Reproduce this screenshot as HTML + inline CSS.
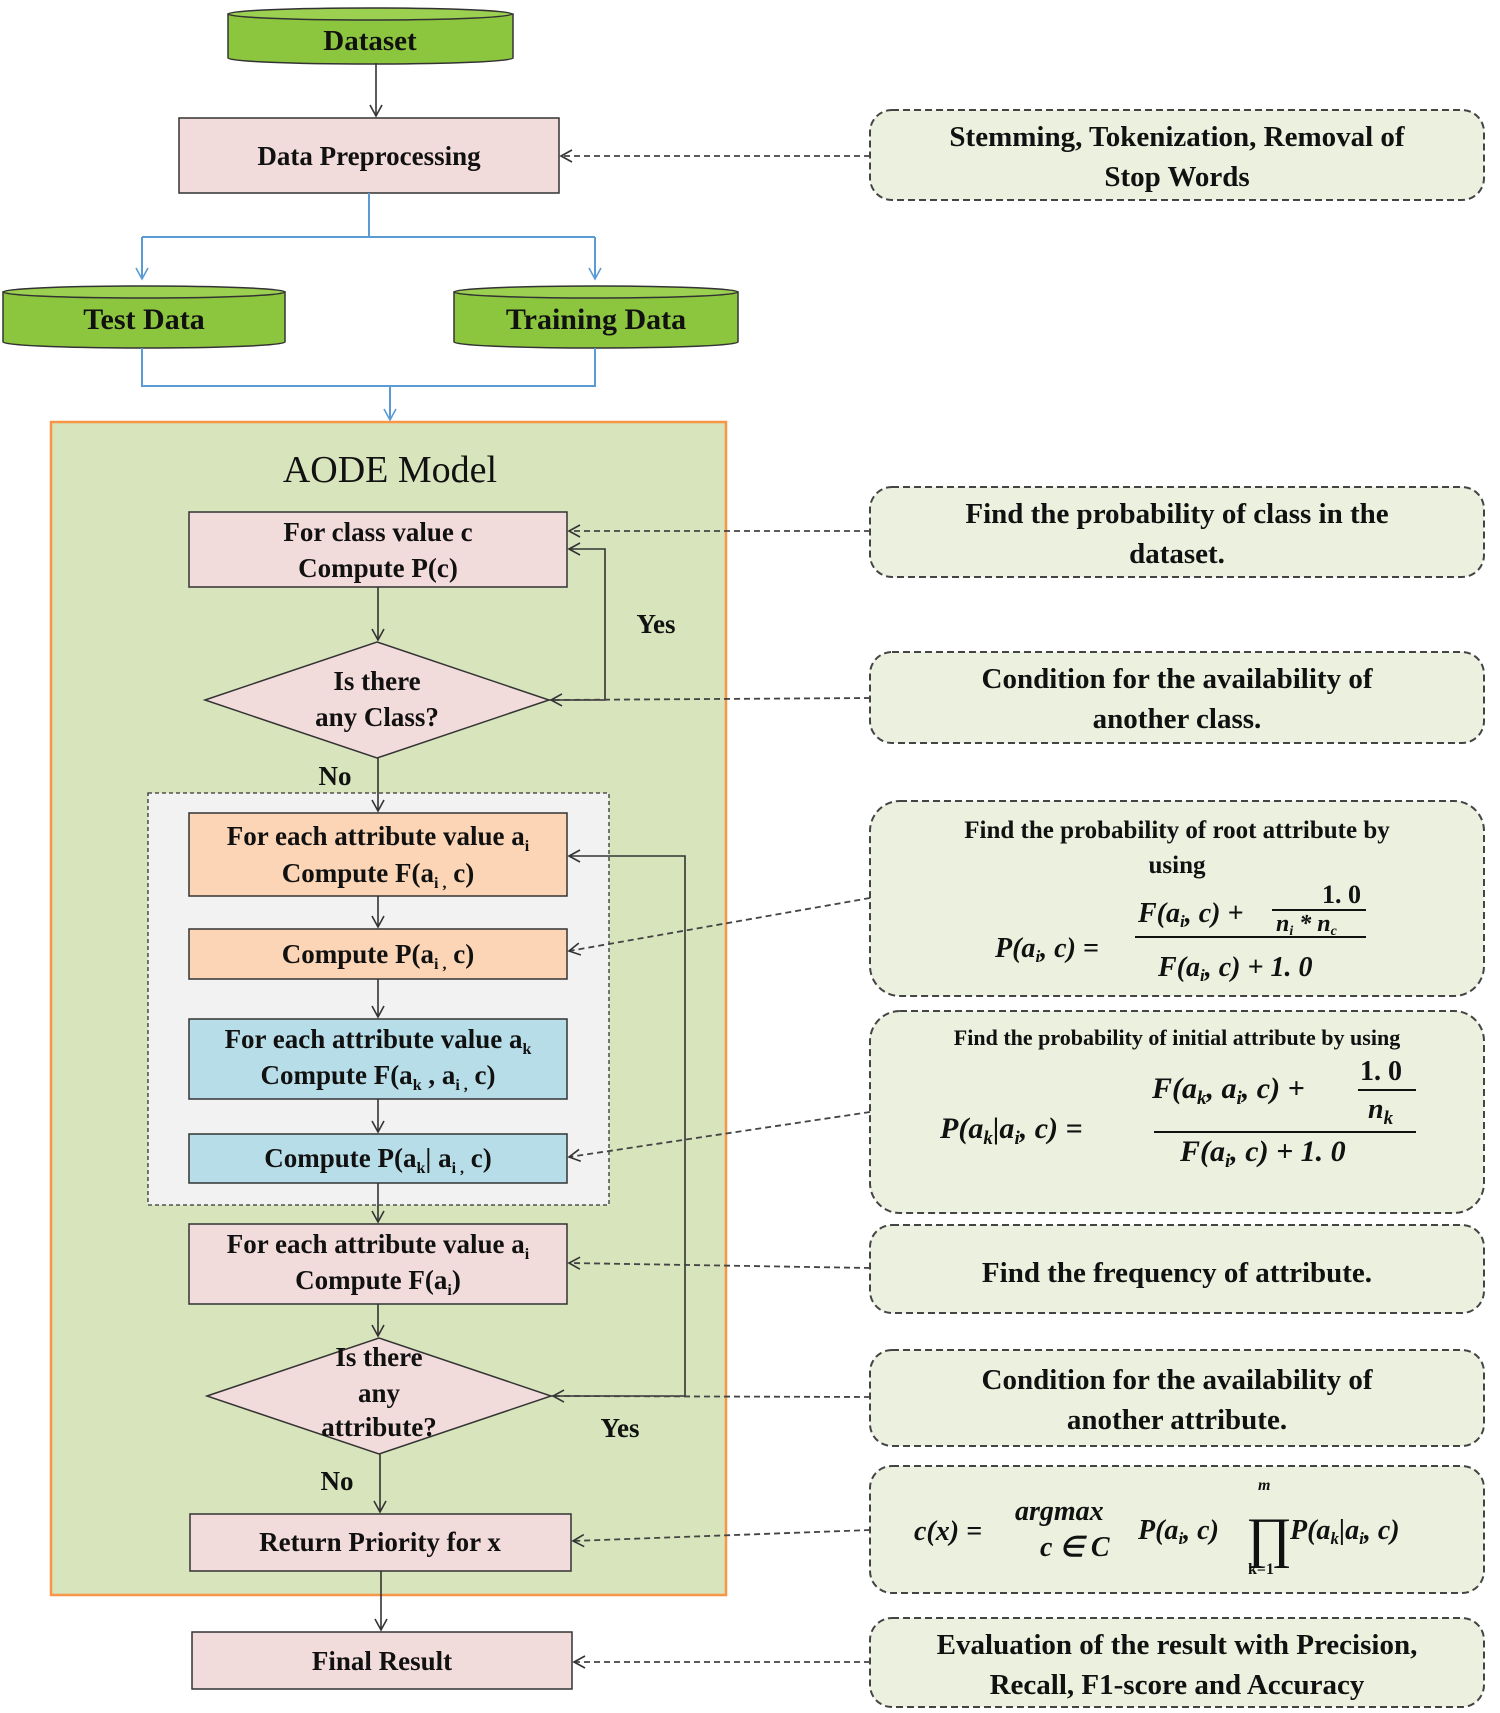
<!DOCTYPE html>
<html><head><meta charset="utf-8"><style>
html,body{margin:0;padding:0;background:#fff}
svg{display:block}
text{font-family:"Liberation Serif",serif;font-weight:bold;fill:#111}
.m{font-style:italic}
</style></head><body>
<svg width="1500" height="1713" viewBox="0 0 1500 1713" xmlns="http://www.w3.org/2000/svg">
<defs>
<marker id="a" markerWidth="14" markerHeight="14" refX="12" refY="7" orient="auto" markerUnits="userSpaceOnUse"><path d="M1,1 L12,7 L1,13" fill="none" stroke="#333" stroke-width="1.6"/></marker>
<marker id="b" markerWidth="14" markerHeight="14" refX="12" refY="7" orient="auto" markerUnits="userSpaceOnUse"><path d="M1,1 L12,7 L1,13" fill="none" stroke="#5b9bd5" stroke-width="1.6"/></marker>
</defs>

<g stroke="#333" stroke-width="1.5">
<path d="M228,14 L228,58 A142,6 0 0 0 513,58 L513,14 Z" fill="#8cc63f"/>
<ellipse cx="370" cy="14" rx="142" ry="6" fill="#9bd050"/>
<path d="M3,292 L3,342 A141,6 0 0 0 285,342 L285,292 Z" fill="#8cc63f"/>
<ellipse cx="144" cy="292" rx="141" ry="6" fill="#9bd050"/>
<path d="M454,292 L454,342 A142,6 0 0 0 738,342 L738,292 Z" fill="#8cc63f"/>
<ellipse cx="596" cy="292" rx="142" ry="6" fill="#9bd050"/>
</g>
<text x="370" y="50" font-size="29" text-anchor="middle">Dataset</text>
<text x="144" y="329" font-size="30" text-anchor="middle">Test Data</text>
<text x="596" y="329" font-size="30" text-anchor="middle">Training Data</text>

<rect x="179" y="118" width="380" height="75" fill="#f2dcdb" stroke="#333" stroke-width="1.5"/>
<text x="369" y="165" font-size="27" text-anchor="middle">Data Preprocessing</text>
<line x1="376" y1="63" x2="376" y2="116" stroke="#333" stroke-width="1.6" marker-end="url(#a)"/>

<g stroke="#5b9bd5" stroke-width="2" fill="none">
<path d="M369,193 L369,237 M142,237 L595,237"/>
<line x1="142" y1="237" x2="142" y2="279" marker-end="url(#b)"/>
<line x1="595" y1="237" x2="595" y2="279" marker-end="url(#b)"/>
<path d="M142,348 L142,386 L595,386 L595,348"/>
<line x1="390" y1="386" x2="390" y2="420" marker-end="url(#b)"/>
</g>

<rect x="51" y="422" width="675" height="1173" fill="#d8e4bc" stroke="#f79646" stroke-width="2.5"/>
<text x="390" y="482" font-size="38" text-anchor="middle" style="font-weight:normal">AODE Model</text>

<rect x="148" y="793" width="461" height="412" fill="#f2f2f2" stroke="#333" stroke-width="1.3" stroke-dasharray="4,3"/>

<g stroke="#333" stroke-width="1.5">
<rect x="189" y="512" width="378" height="75" fill="#f2dcdb"/>
<polygon points="205,700 377,642 549,700 377,758" fill="#f2dcdb"/>
<rect x="189" y="813" width="378" height="83" fill="#fbd5b5"/>
<rect x="189" y="929" width="378" height="50" fill="#fbd5b5"/>
<rect x="189" y="1019" width="378" height="80" fill="#b7dee8"/>
<rect x="189" y="1134" width="378" height="49" fill="#b7dee8"/>
<rect x="189" y="1224" width="378" height="80" fill="#f2dcdb"/>
<polygon points="207,1396 379,1338 551,1396 379,1454" fill="#f2dcdb"/>
<rect x="190" y="1514" width="381" height="57" fill="#f2dcdb"/>
<rect x="192" y="1632" width="380" height="57" fill="#f2dcdb"/>
</g>

<g font-size="27" text-anchor="middle">
<text x="378" y="541">For class value c</text>
<text x="378" y="577">Compute P(c)</text>
<text x="377" y="690">Is there</text>
<text x="377" y="726">any Class?</text>
<text x="378" y="845">For each attribute value a<tspan font-size="16" dy="6">i</tspan></text>
<text x="378" y="882">Compute F(a<tspan font-size="16" dy="6">i ,</tspan><tspan dy="-6"> c)</tspan></text>
<text x="378" y="963">Compute P(a<tspan font-size="16" dy="6">i ,</tspan><tspan dy="-6"> c)</tspan></text>
<text x="378" y="1048">For each attribute value  a<tspan font-size="16" dy="6">k</tspan></text>
<text x="378" y="1084">Compute F(a<tspan font-size="16" dy="6">k</tspan><tspan dy="-6"> , a</tspan><tspan font-size="16" dy="6">i ,</tspan><tspan dy="-6"> c)</tspan></text>
<text x="378" y="1167">Compute P(a<tspan font-size="16" dy="6">k</tspan><tspan dy="-6">| a</tspan><tspan font-size="16" dy="6">i ,</tspan><tspan dy="-6"> c)</tspan></text>
<text x="378" y="1253">For each attribute value a<tspan font-size="16" dy="6">i</tspan></text>
<text x="378" y="1289">Compute F(a<tspan font-size="16" dy="6">i</tspan><tspan dy="-6">)</tspan></text>
<text x="379" y="1366">Is there</text>
<text x="379" y="1402">any</text>
<text x="379" y="1436">attribute?</text>
<text x="380" y="1551">Return Priority  for x</text>
<text x="382" y="1670">Final Result</text>
<text x="656" y="633">Yes</text>
<text x="335" y="785">No</text>
<text x="620" y="1437">Yes</text>
<text x="337" y="1490">No</text>
</g>

<g stroke="#333" stroke-width="1.6" fill="none">
<line x1="378" y1="587" x2="378" y2="640" marker-end="url(#a)"/>
<line x1="378" y1="758" x2="378" y2="811" marker-end="url(#a)"/>
<line x1="378" y1="896" x2="378" y2="927" marker-end="url(#a)"/>
<line x1="378" y1="979" x2="378" y2="1017" marker-end="url(#a)"/>
<line x1="378" y1="1099" x2="378" y2="1132" marker-end="url(#a)"/>
<line x1="378" y1="1183" x2="378" y2="1222" marker-end="url(#a)"/>
<line x1="378" y1="1304" x2="378" y2="1336" marker-end="url(#a)"/>
<line x1="380" y1="1454" x2="380" y2="1512" marker-end="url(#a)"/>
<line x1="381" y1="1571" x2="381" y2="1630" marker-end="url(#a)"/>
<path d="M549,700 L605,700 L605,549 L569,549" marker-end="url(#a)"/>
<path d="M551,1396 L685,1396 L685,856 L569,856" marker-end="url(#a)"/>
</g>

<g fill="#ebf1de" stroke="#444" stroke-width="2" stroke-dasharray="7,4">
<rect x="870" y="110" width="614" height="90" rx="22"/>
<rect x="870" y="487" width="614" height="90" rx="22"/>
<rect x="870" y="652" width="614" height="91" rx="22"/>
<rect x="870" y="801" width="614" height="195" rx="30"/>
<rect x="870" y="1011" width="614" height="202" rx="30"/>
<rect x="870" y="1225" width="614" height="88" rx="22"/>
<rect x="870" y="1350" width="614" height="96" rx="22"/>
<rect x="870" y="1466" width="614" height="127" rx="22"/>
<rect x="870" y="1618" width="614" height="89" rx="22"/>
</g>

<g stroke="#444" stroke-width="1.8" fill="none" stroke-dasharray="6,4">
<line x1="870" y1="156" x2="561" y2="156" marker-end="url(#a)"/>
<line x1="870" y1="531" x2="569" y2="531" marker-end="url(#a)"/>
<line x1="870" y1="698" x2="551" y2="700" marker-end="url(#a)"/>
<line x1="870" y1="898" x2="569" y2="951" marker-end="url(#a)"/>
<line x1="870" y1="1112" x2="569" y2="1157" marker-end="url(#a)"/>
<line x1="870" y1="1268" x2="569" y2="1263" marker-end="url(#a)"/>
<line x1="870" y1="1397" x2="553" y2="1396" marker-end="url(#a)"/>
<line x1="870" y1="1530" x2="573" y2="1541" marker-end="url(#a)"/>
<line x1="870" y1="1662" x2="574" y2="1662" marker-end="url(#a)"/>
</g>

<g font-size="29" text-anchor="middle">
<text x="1177" y="146">Stemming, Tokenization, Removal of</text>
<text x="1177" y="186">Stop Words</text>
<text x="1177" y="523">Find the probability of class in the</text>
<text x="1177" y="563">dataset.</text>
<text x="1177" y="688">Condition for the availability of</text>
<text x="1177" y="728">another class.</text>
<text x="1177" y="1282">Find the frequency of attribute.</text>
<text x="1177" y="1389">Condition for the availability of</text>
<text x="1177" y="1429">another attribute.</text>
<text x="1177" y="1654">Evaluation of the result with Precision,</text>
<text x="1177" y="1694">Recall, F1-score and Accuracy</text>
<text x="1177" y="838" font-size="25">Find the probability of root attribute by</text>
<text x="1177" y="873" font-size="25">using</text>
<text x="1177" y="1045" font-size="22">Find the probability of initial attribute by using</text>
</g>

<g font-size="28">
<text class="m" x="995" y="957">P(a<tspan font-size="17" dy="5">i</tspan><tspan dy="-5">, c) =</tspan></text>
<text class="m" x="1138" y="922">F(a<tspan font-size="17" dy="5">i</tspan><tspan dy="-5">, c) +</tspan></text>
<text x="1322" y="903" font-size="26">1. 0</text>
<line x1="1272" y1="910" x2="1366" y2="910" stroke="#111" stroke-width="2"/>
<text class="m" x="1276" y="931" font-size="24">n<tspan font-size="14" dy="4">i</tspan><tspan dy="-4"> * n</tspan><tspan font-size="14" dy="4">c</tspan></text>
<line x1="1135" y1="937" x2="1366" y2="937" stroke="#111" stroke-width="2"/>
<text class="m" x="1158" y="976">F(a<tspan font-size="17" dy="5">i</tspan><tspan dy="-5">, c) + 1. 0</tspan></text>
</g>
<g font-size="30">
<text class="m" x="940" y="1138">P(a<tspan font-size="19" dy="6">k</tspan><tspan dy="-6">|a</tspan><tspan font-size="19" dy="6">i</tspan><tspan dy="-6">, c) =</tspan></text>
<text class="m" x="1152" y="1098">F(a<tspan font-size="19" dy="6">k</tspan><tspan dy="-6">, a</tspan><tspan font-size="19" dy="6">i</tspan><tspan dy="-6">, c) +</tspan></text>
<text x="1360" y="1080" font-size="28">1. 0</text>
<line x1="1358" y1="1090" x2="1416" y2="1090" stroke="#111" stroke-width="2"/>
<text class="m" x="1368" y="1118" font-size="28">n<tspan font-size="19" dy="6">k</tspan></text>
<line x1="1154" y1="1132" x2="1416" y2="1132" stroke="#111" stroke-width="2"/>
<text class="m" x="1180" y="1161">F(a<tspan font-size="19" dy="6">i</tspan><tspan dy="-6">, c) + 1. 0</tspan></text>
</g>
<g font-size="28">
<text class="m" x="914" y="1540">c(x) =</text>
<text class="m" x="1015" y="1520">argmax</text>
<text class="m" x="1040" y="1556">c ∈ C</text>
<text class="m" x="1138" y="1539">P(a<tspan font-size="17" dy="5">i</tspan><tspan dy="-5">, c)</tspan></text>
<text x="1246" y="1556" font-size="56" style="font-weight:normal">∏</text>
<text class="m" x="1258" y="1490" font-size="16">m</text>
<text x="1248" y="1574" font-size="16">k=1</text>
<text class="m" x="1290" y="1539">P(a<tspan font-size="17" dy="5">k</tspan><tspan dy="-5">|a</tspan><tspan font-size="17" dy="5">i</tspan><tspan dy="-5">, c)</tspan></text>
</g>
</svg>
</body></html>
